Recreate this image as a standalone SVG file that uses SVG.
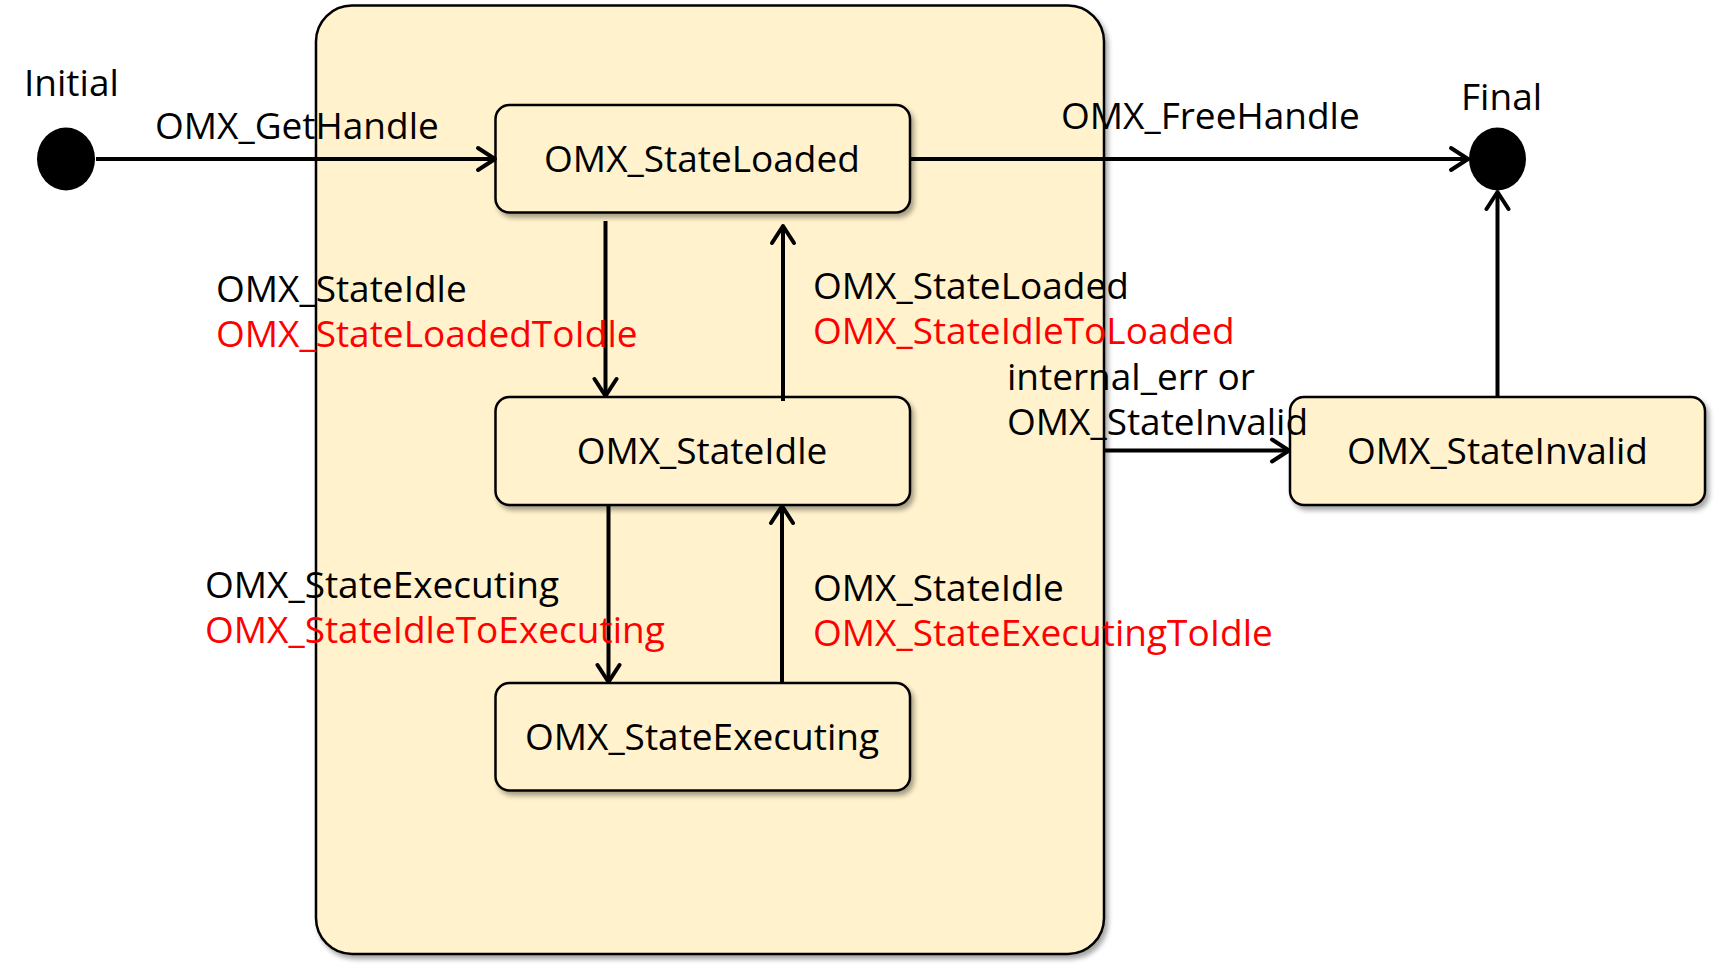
<svg xmlns="http://www.w3.org/2000/svg" width="1719" height="969" viewBox="0 0 1719 969">
<style>
.box{fill:#FFF2CC;stroke:#000;stroke-width:2.5;filter:url(#sh)}
.t{font-family:"Open Sans","Liberation Sans",sans-serif;font-size:37px;fill:#000}
.r{fill:#FF0000}
.c{stroke:#000;stroke-width:4;fill:none;marker-end:url(#ah)}
</style>
<defs>
<filter id="sh" x="-10%" y="-10%" width="125%" height="130%">
<feDropShadow dx="3" dy="4" stdDeviation="2.5" flood-color="#000" flood-opacity="0.35"/>
</filter>
<marker id="ah" markerUnits="userSpaceOnUse" viewBox="0 0 24 28" markerWidth="24" markerHeight="28" refX="20" refY="14" orient="auto">
<path d="M3,3 L20,14 L3,25" fill="none" stroke="#000" stroke-width="4" stroke-linecap="round" stroke-linejoin="round"/>
</marker>
</defs>
<g id="container"><rect class="box" x="316" y="5.5" width="788" height="948.5" rx="36"/></g>
<g id="initial"><ellipse cx="66" cy="159" rx="29" ry="31.5" fill="#000"/><text class="t" x="24" y="96">Initial</text></g>
<g id="final"><ellipse cx="1497.5" cy="159" rx="28.5" ry="31.5" fill="#000"/><text class="t" x="1461" y="110">Final</text></g>
<g id="loaded"><rect class="box" x="495.5" y="105" width="414.5" height="107.5" rx="14"/><text class="t" x="702" y="172" text-anchor="middle">OMX_StateLoaded</text></g>
<g id="idle"><rect class="box" x="495.5" y="397" width="414.5" height="108" rx="14"/><text class="t" x="702" y="464" text-anchor="middle">OMX_StateIdle</text></g>
<g id="executing"><rect class="box" x="495.5" y="683" width="414.5" height="107.5" rx="14"/><text class="t" x="702" y="750" text-anchor="middle">OMX_StateExecuting</text></g>
<g id="invalid"><rect class="box" x="1290" y="397" width="415" height="108" rx="14"/><text class="t" x="1497.5" y="464" text-anchor="middle">OMX_StateInvalid</text></g>
<g id="connectors">
<line class="c" x1="96" y1="159" x2="495" y2="159"/>
<line class="c" x1="910" y1="159" x2="1468" y2="159"/>
<line class="c" x1="605.5" y1="221" x2="605.5" y2="396"/>
<line class="c" x1="783" y1="401" x2="783" y2="226"/>
<line class="c" x1="608.5" y1="505" x2="608.5" y2="682"/>
<line class="c" x1="782" y1="683" x2="782" y2="506"/>
<line class="c" x1="1104" y1="450.5" x2="1289" y2="450.5"/>
<line class="c" x1="1497.5" y1="397" x2="1497.5" y2="192"/>
</g>
<g id="labels">
<text class="t" x="155" y="139">OMX_GetHandle</text>
<text class="t" x="1061" y="129">OMX_FreeHandle</text>
<text class="t" x="216" y="302">OMX_StateIdle</text>
<text class="t r" x="216" y="347">OMX_StateLoadedToIdle</text>
<text class="t" x="813" y="299">OMX_StateLoaded</text>
<text class="t r" x="813" y="344">OMX_StateIdleToLoaded</text>
<text class="t" x="1007" y="390">internal_err or</text>
<text class="t" x="1007" y="435">OMX_StateInvalid</text>
<text class="t" x="205" y="598">OMX_StateExecuting</text>
<text class="t r" x="205" y="643">OMX_StateIdleToExecuting</text>
<text class="t" x="813" y="601">OMX_StateIdle</text>
<text class="t r" x="813" y="646">OMX_StateExecutingToIdle</text>
</g>
</svg>
